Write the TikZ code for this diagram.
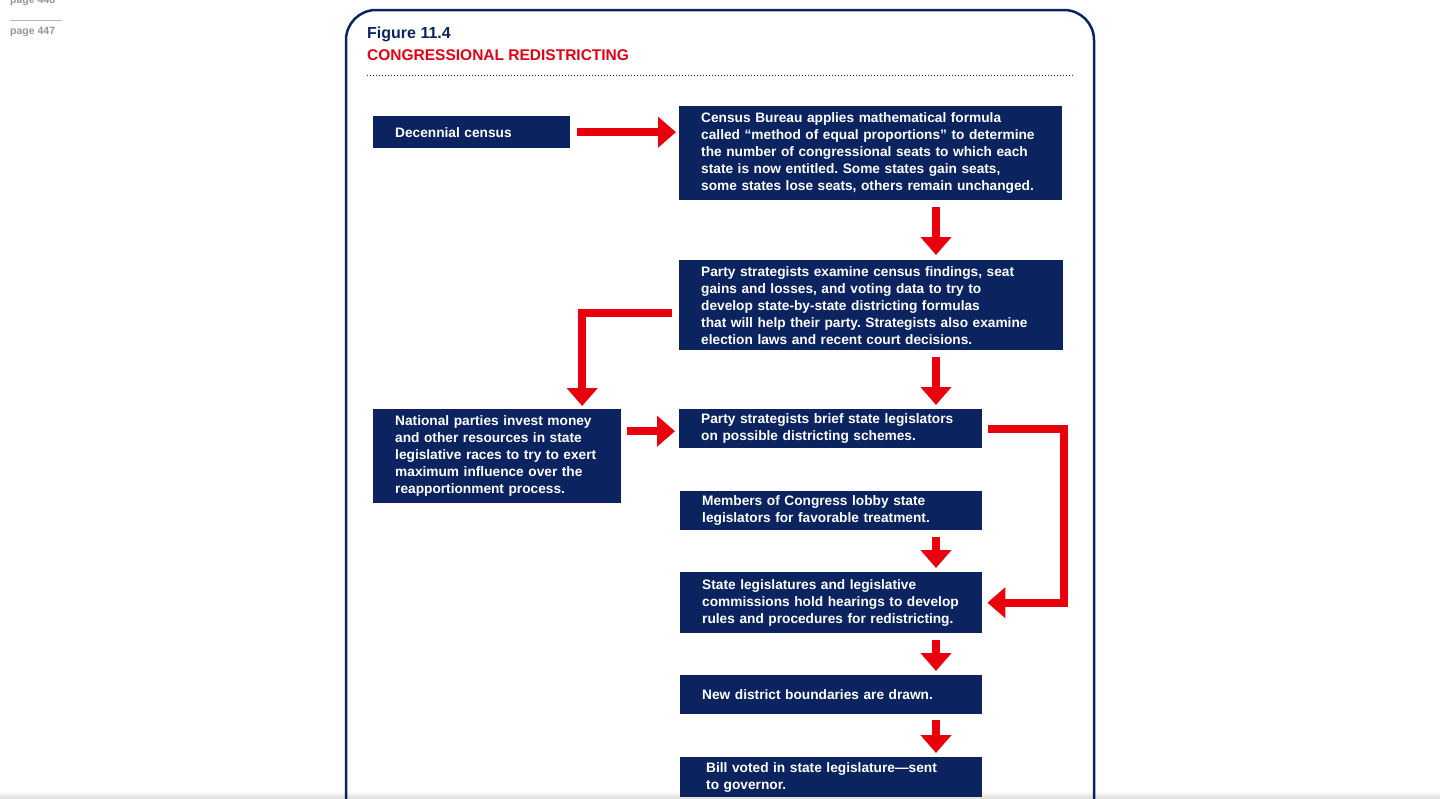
\documentclass[tikz,border=0pt]{standalone}
\usepackage{fontspec}
\setmainfont{Liberation Sans}
\usepackage{xcolor}
\usepackage{tikz}
\usetikzlibrary{arrows.meta}
\frenchspacing

\definecolor{navy}{RGB}{11,36,96}
\definecolor{arrowred}{RGB}{232,0,12}
\definecolor{titlered}{RGB}{222,0,20}
\definecolor{pagegray}{RGB}{150,150,150}

\begin{document}
\begin{tikzpicture}[x=1pt, y=-1pt,
    box/.style={fill=navy, text=white, anchor=north west, align=left, inner xsep=22pt, inner ysep=0pt,
                font=\bfseries\fontsize{13.7}{17}\selectfont},
    flow/.style={draw=arrowred, line width=8pt, -{Triangle[width=30pt,length=18pt]}, shorten <=7pt, shorten >=4pt}]
    \useasboundingbox (0,0) rectangle (1440,798);

    % Screen shadow at the lower edge
    \shade[top color=white, bottom color=black!13] (0,791) rectangle (1440,798);

    % Page markers in the margin
    \node[anchor=base west, inner sep=0pt, text=pagegray, font=\bfseries\fontsize{10.5}{12}\selectfont] (pageprev) at (10,3) {page 448};
    \draw[pagegray!70, line width=0.8pt] (10,20) -- (62,20);
    \node[anchor=base west, inner sep=0pt, text=pagegray, font=\bfseries\fontsize{10.5}{12}\selectfont] (pagecur) at (10,34) {page 447};

    % Figure frame and heading
    \draw[navy, line width=2.5pt, rounded corners=30pt] (346,820) -- (346,10) -- (1094,10) -- (1094,820);
    \node[anchor=base west, inner sep=0pt, text=navy, font=\bfseries\fontsize{16}{18}\selectfont] (fignum) at (367,38) {Figure 11.4};
    \node[anchor=base west, inner sep=0pt, text=titlered, font=\bfseries\fontsize{15.5}{18}\selectfont] (figtitle) at (367,60) {CONGRESSIONAL REDISTRICTING};
    \draw[navy, line width=1pt, dash pattern=on 1pt off 2pt] (367,75) -- (1073,75);

    % Boxes of the flow
    \node[box, minimum width=197pt, minimum height=32pt, text width=153pt] (decennial) at (373,116) {Decennial census};
    \node[box, minimum width=383pt, minimum height=94pt, text width=339pt] (bureau) at (679,106)
        {Census Bureau applies mathematical formula\\called “method of equal proportions” to determine\\the number of congressional seats to which each\\state is now entitled. Some states gain seats,\\some states lose seats, others remain unchanged.};
    \node[box, minimum width=384pt, minimum height=90pt, text width=340pt] (examine) at (679,260)
        {Party strategists examine census findings, seat\\gains and losses, and voting data to try to\\develop state-by-state districting formulas\\that will help their party. Strategists also examine\\election laws and recent court decisions.};
    \node[box, minimum width=248pt, minimum height=94pt, text width=204pt] (national) at (373,409)
        {National parties invest money\\and other resources in state\\legislative races to try to exert\\maximum influence over the\\reapportionment process.};
    \node[box, minimum width=303pt, minimum height=39pt, text width=259pt] (brief) at (679,409)
        {Party strategists brief state legislators\\on possible districting schemes.};
    \node[box, minimum width=302pt, minimum height=39pt, text width=258pt] (lobby) at (680,491)
        {Members of Congress lobby state\\legislators for favorable treatment.};
    \node[box, minimum width=302pt, minimum height=61pt, text width=258pt] (hearings) at (680,572)
        {State legislatures and legislative\\commissions hold hearings to develop\\rules and procedures for redistricting.};
    \node[box, minimum width=302pt, minimum height=39pt, text width=258pt] (drawn) at (680,675)
        {New district boundaries are drawn.};
    \node[box, minimum width=302pt, minimum height=40pt, text width=258pt] (bill) at (680,757)
        {\hspace*{4pt}Bill voted in state legislature—sent\\\hspace*{4pt}to governor.};

    % Helper points for the arrows
    \coordinate (spine) at (936,0);
    \coordinate (briefin) at ([yshift=-2.5pt]brief.west);

    % Arrows down the right column
    \draw[flow, shorten >=3pt] (decennial.east) -- (decennial.east -| bureau.west);
    \draw[flow, shorten >=5pt] (bureau.south -| spine) -- (examine.north -| spine);
    \draw[flow] (examine.south -| spine) -- (brief.north -| spine);
    \draw[flow] (lobby.south -| spine) -- (hearings.north -| spine);
    \draw[flow] (hearings.south -| spine) -- (drawn.north -| spine);
    \draw[flow, shorten <=6pt] (drawn.south -| spine) -- (bill.north -| spine);

    % Arrows to and from the national parties
    \draw[flow, shorten >=3pt] ([yshift=-8pt]examine.west) -| ([xshift=85pt]national.north);
    \draw[flow, shorten <=6pt] (national.east |- briefin) -- (briefin);

    % Loop from the briefing to the hearings
    \draw[flow, shorten <=6pt, shorten >=5pt] (brief.east) -- ++(82,0) |- (hearings.east);
\end{tikzpicture}
\end{document}
